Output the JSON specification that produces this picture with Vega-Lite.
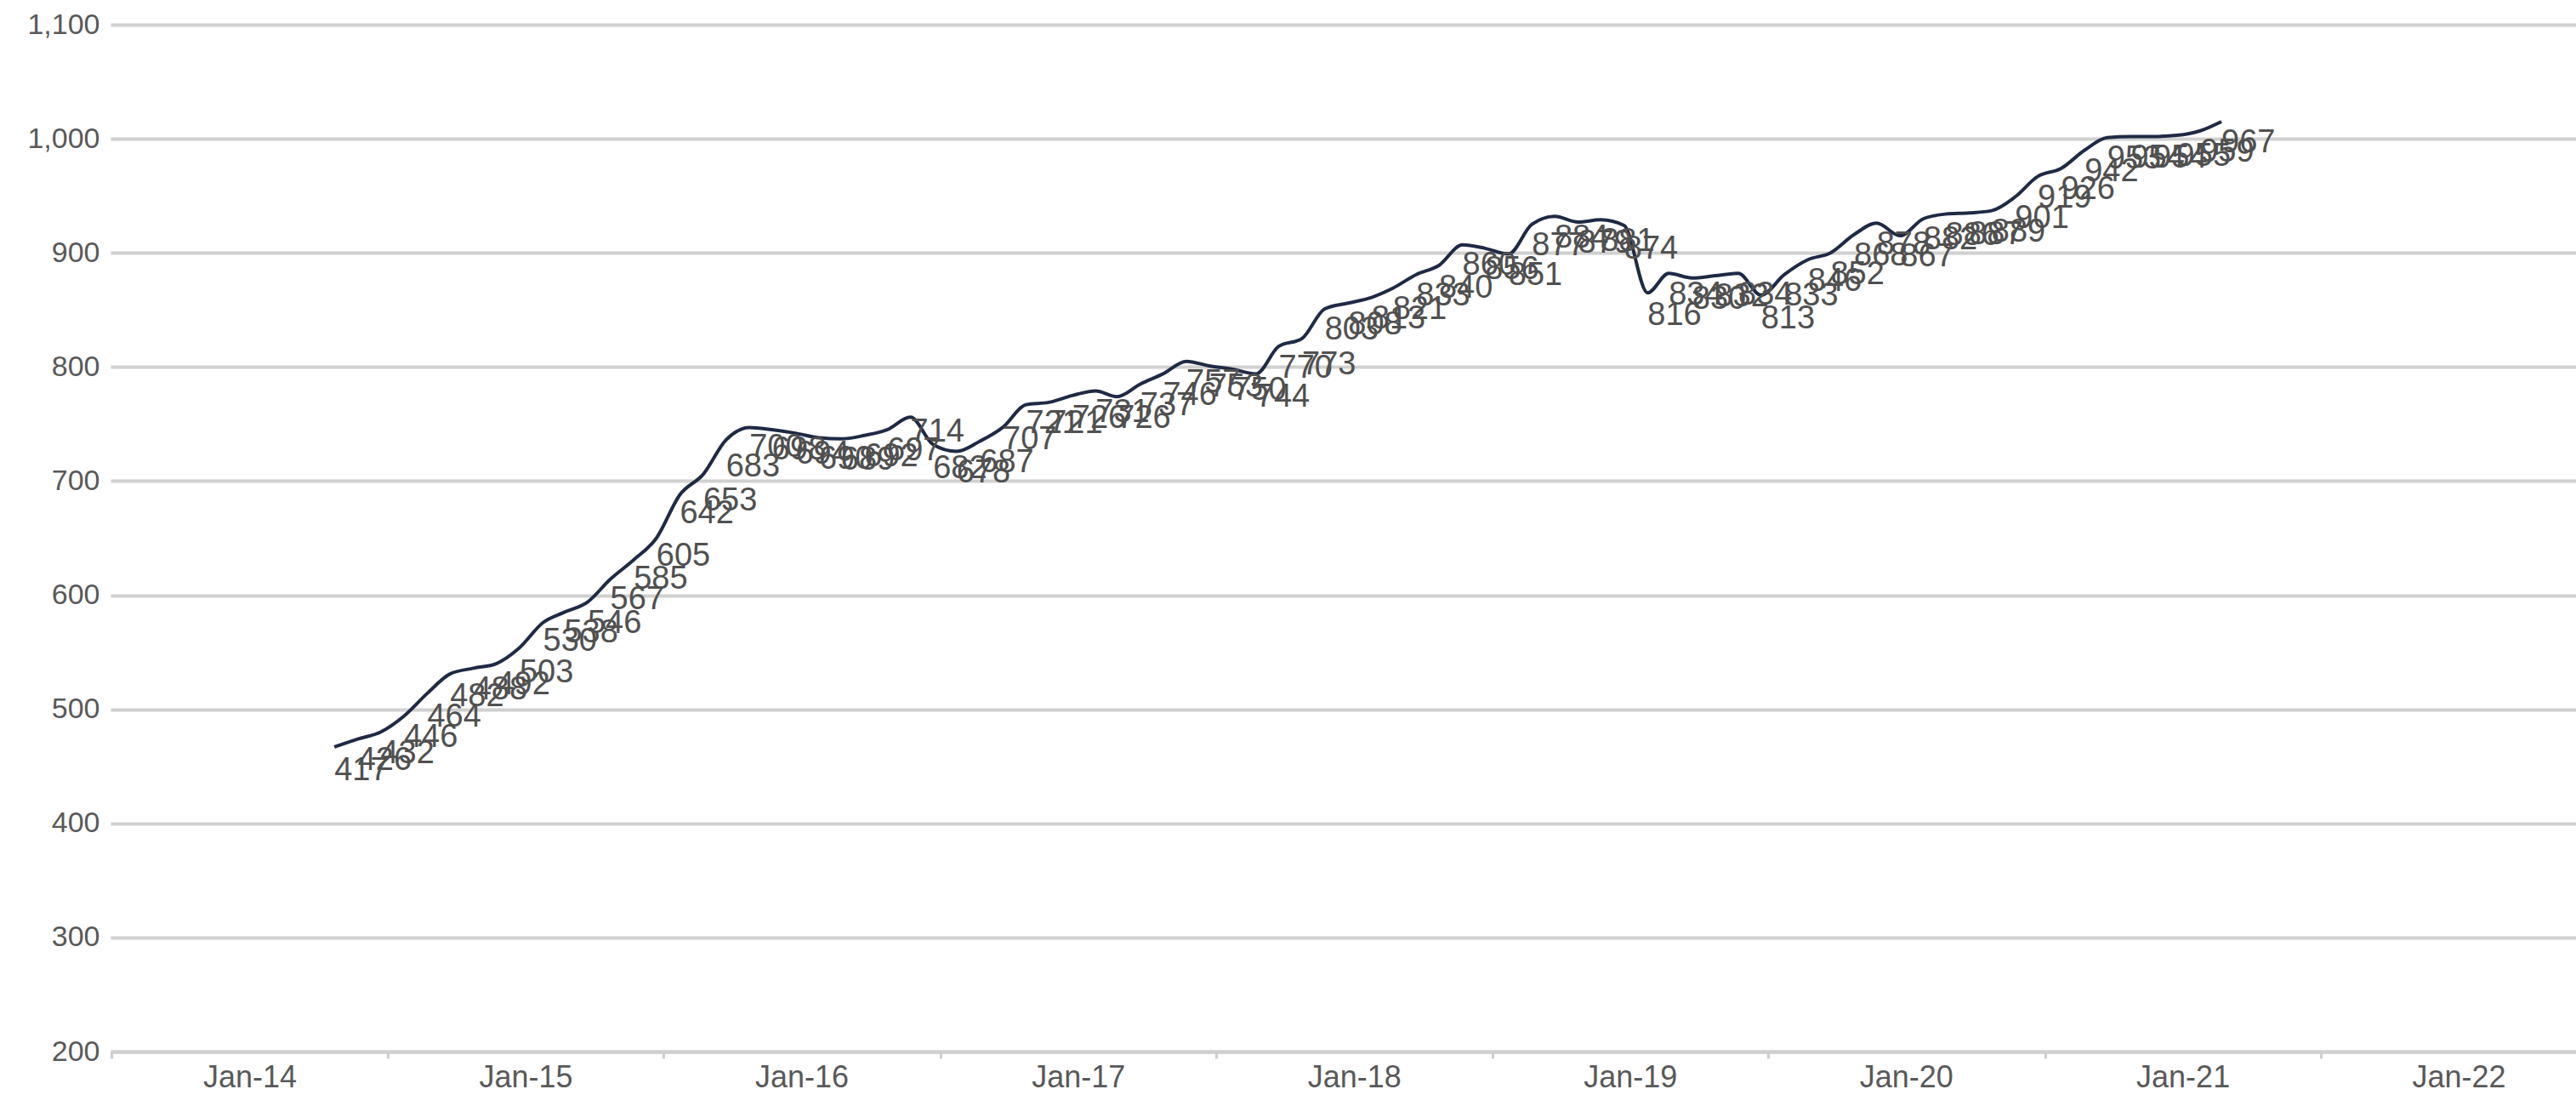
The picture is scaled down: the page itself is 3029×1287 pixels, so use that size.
{
  "$schema": "https://vega.github.io/schema/vega-lite/v6.json",
  "width": 2899,
  "height": 1207,
  "autosize": {"type": "none"},
  "padding": {"left": 130, "top": 29, "right": 0, "bottom": 51},
  "background": "white",
  "config": {"view": {"stroke": null}, "font": "Liberation Sans"},
  "data": {"values": [
    {"date": "2014-05-01", "value": 467, "label": 417},
    {"date": "2014-06-01", "value": 474, "label": 426},
    {"date": "2014-07-01", "value": 480, "label": 432},
    {"date": "2014-08-01", "value": 494, "label": 446},
    {"date": "2014-09-01", "value": 514, "label": 464},
    {"date": "2014-10-01", "value": 531, "label": 482},
    {"date": "2014-11-01", "value": 536, "label": 488},
    {"date": "2014-12-01", "value": 540, "label": 492},
    {"date": "2015-01-01", "value": 554, "label": 503},
    {"date": "2015-02-01", "value": 576, "label": 530},
    {"date": "2015-03-01", "value": 585, "label": 538},
    {"date": "2015-04-01", "value": 594, "label": 546},
    {"date": "2015-05-01", "value": 614, "label": 567},
    {"date": "2015-06-01", "value": 631, "label": 585},
    {"date": "2015-07-01", "value": 650, "label": 605},
    {"date": "2015-08-01", "value": 688, "label": 642},
    {"date": "2015-09-01", "value": 706, "label": 653},
    {"date": "2015-10-01", "value": 736, "label": 683},
    {"date": "2015-11-01", "value": 747, "label": 700},
    {"date": "2015-12-01", "value": 745, "label": 698},
    {"date": "2016-01-01", "value": 742, "label": 694},
    {"date": "2016-02-01", "value": 738, "label": 690},
    {"date": "2016-03-01", "value": 737, "label": 689},
    {"date": "2016-04-01", "value": 740, "label": 692},
    {"date": "2016-05-01", "value": 745, "label": 697},
    {"date": "2016-06-01", "value": 756, "label": 714},
    {"date": "2016-07-01", "value": 732, "label": 682},
    {"date": "2016-08-01", "value": 726, "label": 678},
    {"date": "2016-09-01", "value": 735, "label": 687},
    {"date": "2016-10-01", "value": 747, "label": 707},
    {"date": "2016-11-01", "value": 767, "label": 721},
    {"date": "2016-12-01", "value": 769, "label": 721},
    {"date": "2017-01-01", "value": 775, "label": 726},
    {"date": "2017-02-01", "value": 779, "label": 731},
    {"date": "2017-03-01", "value": 774, "label": 726},
    {"date": "2017-04-01", "value": 785, "label": 737},
    {"date": "2017-05-01", "value": 794, "label": 746},
    {"date": "2017-06-01", "value": 805, "label": 757},
    {"date": "2017-07-01", "value": 801, "label": 753},
    {"date": "2017-08-01", "value": 798, "label": 750},
    {"date": "2017-09-01", "value": 794, "label": 744},
    {"date": "2017-10-01", "value": 818, "label": 770},
    {"date": "2017-11-01", "value": 825, "label": 773},
    {"date": "2017-12-01", "value": 851, "label": 803},
    {"date": "2018-01-01", "value": 856, "label": 808},
    {"date": "2018-02-01", "value": 861, "label": 813},
    {"date": "2018-03-01", "value": 869, "label": 821},
    {"date": "2018-04-01", "value": 881, "label": 833},
    {"date": "2018-05-01", "value": 889, "label": 840},
    {"date": "2018-06-01", "value": 907, "label": 860},
    {"date": "2018-07-01", "value": 904, "label": 856},
    {"date": "2018-08-01", "value": 899, "label": 851},
    {"date": "2018-09-01", "value": 925, "label": 877},
    {"date": "2018-10-01", "value": 932, "label": 884},
    {"date": "2018-11-01", "value": 927, "label": 879},
    {"date": "2018-12-01", "value": 929, "label": 881},
    {"date": "2019-01-01", "value": 924, "label": 874},
    {"date": "2019-02-01", "value": 865, "label": 816},
    {"date": "2019-03-01", "value": 882, "label": 834},
    {"date": "2019-04-01", "value": 878, "label": 830},
    {"date": "2019-05-01", "value": 880, "label": 832},
    {"date": "2019-06-01", "value": 882, "label": 834},
    {"date": "2019-07-01", "value": 863, "label": 813},
    {"date": "2019-08-01", "value": 881, "label": 833},
    {"date": "2019-09-01", "value": 894, "label": 846},
    {"date": "2019-10-01", "value": 900, "label": 852},
    {"date": "2019-11-01", "value": 916, "label": 868},
    {"date": "2019-12-01", "value": 926, "label": 878},
    {"date": "2020-01-01", "value": 915, "label": 867},
    {"date": "2020-02-01", "value": 930, "label": 882},
    {"date": "2020-03-01", "value": 934, "label": 886},
    {"date": "2020-04-01", "value": 935, "label": 887},
    {"date": "2020-05-01", "value": 937, "label": 889},
    {"date": "2020-06-01", "value": 949, "label": 901},
    {"date": "2020-07-01", "value": 967, "label": 919},
    {"date": "2020-08-01", "value": 974, "label": 926},
    {"date": "2020-09-01", "value": 990, "label": 942},
    {"date": "2020-10-01", "value": 1001, "label": 953},
    {"date": "2020-11-01", "value": 1002, "label": 954},
    {"date": "2020-12-01", "value": 1002, "label": 954},
    {"date": "2021-01-01", "value": 1003, "label": 955},
    {"date": "2021-02-01", "value": 1007, "label": 959},
    {"date": "2021-03-01", "value": 1015, "label": 967}
  ]},
  "encoding": {
    "x": {
      "field": "date",
      "type": "temporal",
      "title": null,
      "scale": {"domain": [{"year": 2013, "month": 7, "date": 9}, {"year": 2022, "month": 6, "date": 13}]},
      "axis": {
        "values": [
          {"year": 2014, "month": 1, "date": 1}, {"year": 2015, "month": 1, "date": 1},
          {"year": 2016, "month": 1, "date": 1}, {"year": 2017, "month": 1, "date": 1},
          {"year": 2018, "month": 1, "date": 1}, {"year": 2019, "month": 1, "date": 1},
          {"year": 2020, "month": 1, "date": 1}, {"year": 2021, "month": 1, "date": 1},
          {"year": 2022, "month": 1, "date": 1}
        ],
        "format": "%b-%y",
        "grid": false,
        "tickOffset": -155,
        "labelOffset": 162,
        "tickSize": 8,
        "tickWidth": 3,
        "tickColor": "#cfcfcf",
        "domainColor": "#cfcfcf",
        "domainWidth": 4,
        "labelFontSize": 36,
        "labelColor": "#595959",
        "labelPadding": 5,
        "labelFlush": false,
        "labelOverlap": false
      }
    },
    "y": {
      "field": "value",
      "type": "quantitative",
      "title": null,
      "scale": {"domain": [200, 1100], "nice": false, "zero": false},
      "axis": {
        "values": [200, 300, 400, 500, 600, 700, 800, 900, 1000, 1100],
        "format": ",d",
        "grid": true,
        "gridColor": "#d0d0d0",
        "gridWidth": 4,
        "domain": false,
        "ticks": false,
        "labelPadding": 13,
        "labelFontSize": 34,
        "labelColor": "#595959"
      }
    }
  },
  "layer": [
    {
      "mark": {"type": "line", "interpolate": "monotone", "color": "#1f2a44", "strokeWidth": 4}
    },
    {
      "mark": {"type": "text", "align": "left", "baseline": "middle", "dy": -39, "fontSize": 38, "color": "#505050"},
      "encoding": {
        "y": {"field": "label", "type": "quantitative"},
        "text": {"field": "label", "type": "quantitative"}
      }
    }
  ]
}
